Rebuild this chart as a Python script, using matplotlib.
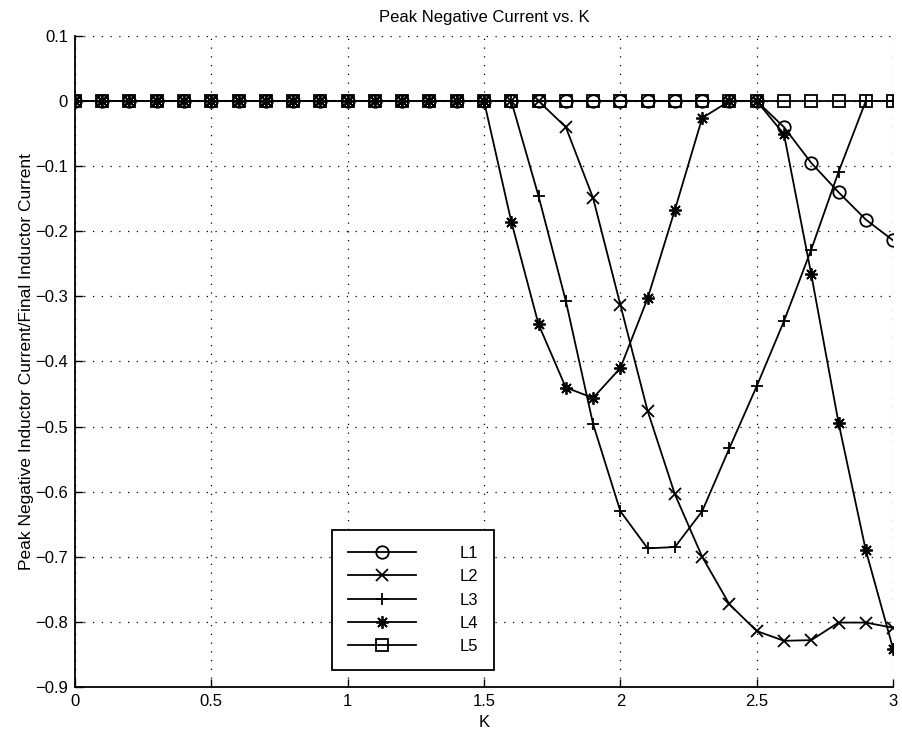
import matplotlib
matplotlib.use('Agg')
import matplotlib.pyplot as plt
import numpy as np

# K values 0.0 .. 3.0 in steps of 0.1
k = [round(0.1 * i, 1) for i in range(31)]

l1 = [0.0] * 26 + [-0.04, -0.095, -0.14, -0.182, -0.214]
l2 = [0.0] * 18 + [-0.04, -0.149, -0.313, -0.476, -0.604, -0.70, -0.773,
                   -0.814, -0.829, -0.828, -0.801, -0.801, -0.809]
l3 = [0.0] * 17 + [-0.146, -0.307, -0.496, -0.63, -0.687, -0.685, -0.63,
                   -0.533, -0.438, -0.338, -0.228, -0.109, 0.0, 0.0]
l4 = [0.0] * 16 + [-0.185, -0.343, -0.44, -0.456, -0.41, -0.303, -0.167,
                   -0.026, 0.0, 0.0, -0.051, -0.266, -0.494, -0.69, -0.841]
l5 = [0.0] * 31

series = [l1, l2, l3, l4, l5]
names = ['L1', 'L2', 'L3', 'L4', 'L5']
markers = ['o', 'x', '+', (8, 2, 0), 's']

xticks = [0, 0.5, 1, 1.5, 2, 2.5, 3]
xticklabels = ['0', '0.5', '1', '1.5', '2', '2.5', '3']
yticks = np.round(np.arange(-0.9, 0.11, 0.1), 1)
yticklabels = ['\u22120.9', '\u22120.8', '\u22120.7', '\u22120.6', '\u22120.5',
               '\u22120.4', '\u22120.3', '\u22120.2', '\u22120.1', '0', '0.1']

plt.rcParams['font.family'] = ['Liberation Sans', 'DejaVu Sans']
plt.rcParams['font.size'] = 12

fig = plt.figure(figsize=(9.03, 7.34), dpi=100)
ax = fig.add_axes([0.083, 0.064, 0.906, 0.887])

for y, name, m in zip(series, names, markers):
    ax.plot(k, y, color='black', linewidth=1.3, marker=m, markersize=9,
            markerfacecolor='none', markeredgecolor='black',
            markeredgewidth=1.3, label=name)

ax.set_xlim(0, 3)
ax.set_ylim(-0.9, 0.1)
ax.set_xticks(xticks)
ax.set_xticklabels(xticklabels)
ax.set_yticks(yticks)
ax.set_yticklabels(yticklabels)
ax.grid(True, color='black', linestyle=(0, (1, 6)), linewidth=0.9)
ax.tick_params(direction='in', length=6, width=1, pad=5)

for side in ['top', 'right']:
    ax.spines[side].set_visible(False)
for side in ['left', 'bottom']:
    ax.spines[side].set_linewidth(1.3)

ax.set_title('Peak Negative Current vs. K', fontsize=12, pad=10)
ax.set_xlabel('K', labelpad=4)
ax.set_ylabel('Peak Negative Inductor Current/Final Inductor Current',
              fontsize=12.5, labelpad=1)

leg = ax.legend(loc='upper left', bbox_to_anchor=(0.314, 0.241),
                borderaxespad=0, fancybox=False, framealpha=1,
                edgecolor='black', handlelength=4.1, handletextpad=2.6,
                labelspacing=0.5, borderpad=0.95, fontsize=12)
leg.get_frame().set_linewidth(1.3)

fig.savefig('out.png', dpi=100)
